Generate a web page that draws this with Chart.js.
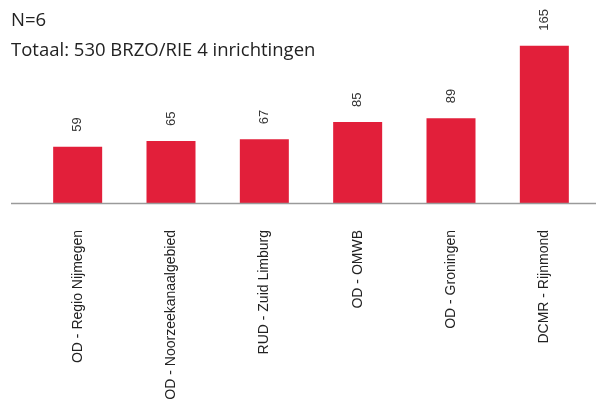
<!DOCTYPE html>
<html>
<head>
<meta charset="utf-8">
<script src="https://cdn.jsdelivr.net/npm/chart.js@4"></script>
<style>
  html, body { margin: 0; padding: 0; background: #fff; }
  #wrap { width: 596px; height: 403px; position: relative; }
</style>
</head>
<body>
<div id="wrap"><canvas id="chart" width="596" height="403"></canvas></div>
<script>
var categories = ['OD - Regio Nijmegen', 'OD - Noorzeekanaalgebied', 'RUD - Zuid Limburg', 'OD - OMWB', 'OD - Groningen', 'DCMR - Rijnmond'];
var values = [59, 65, 67, 85, 89, 165];
var titleLines = ['N=6', 'Totaal: 530 BRZO/RIE 4 inrichtingen'];

var barRed = '#e21f3a';

// titels, waardelabels en de grijze basislijn
var extras = {
    id: 'extras',
    afterDatasetsDraw: function(chart) {
        var ctx = chart.ctx;
        var area = chart.chartArea;
        ctx.save();
        // basislijn
        ctx.strokeStyle = '#9a9a9a';
        ctx.lineWidth = 1.5;
        ctx.beginPath();
        ctx.moveTo(11, area.bottom + 0.5);
        ctx.lineTo(chart.width, area.bottom + 0.5);
        ctx.stroke();

        // waarden boven de staven, gedraaid
        var meta = chart.getDatasetMeta(0);
        ctx.fillStyle = '#333';
        ctx.font = '13px "Liberation Sans", Arial, sans-serif';
        ctx.textAlign = 'left';
        ctx.textBaseline = 'middle';
        meta.data.forEach(function(bar, i) {
            ctx.save();
            ctx.translate(bar.x, bar.y - 15);
            ctx.rotate(-Math.PI / 2);
            ctx.fillText(String(values[i]), 0, 0);
            ctx.restore();
        });

        // titel
        ctx.fillStyle = '#222';
        ctx.font = '18.5px "Open Sans", sans-serif';
        ctx.textBaseline = 'alphabetic';
        ctx.fillText(titleLines[0], 11, 26);
        ctx.fillText(titleLines[1], 11, 56);
        ctx.restore();
    }
};

var ctx = document.getElementById('chart').getContext('2d');
var myChart = new Chart(ctx, {
    type: 'bar',
    data: {
        labels: categories,
        datasets: [{
            data: values,
            backgroundColor: barRed,
            borderWidth: 0,
            barPercentage: 0.525,
            categoryPercentage: 1
        }]
    },
    options: {
        responsive: false,
        animation: false,
        layout: { padding: { left: 31, right: 5, top: 0, bottom: 0 } },
        plugins: {
            legend: { display: false },
            tooltip: { enabled: false }
        },
        scales: {
            x: {
                grid: { display: false, drawTicks: false },
                border: { display: false },
                ticks: {
                    color: '#222',
                    font: { family: '"Liberation Sans", Arial, sans-serif', size: 14 },
                    minRotation: 90,
                    maxRotation: 90,
                    autoSkip: false,
                    padding: 27
                },
                afterFit: function(scale) { scale.height = 200; }
            },
            y: {
                display: false,
                min: 0,
                max: 213
            }
        }
    },
    plugins: [extras]
});
</script>
</body>
</html>
